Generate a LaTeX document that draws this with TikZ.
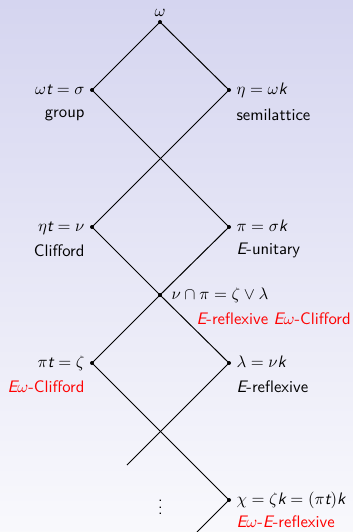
\documentclass[tikz,border=0pt]{standalone}
\definecolor{bgtop}{rgb}{0.835,0.835,0.94}
\definecolor{bgbot}{rgb}{0.975,0.975,0.99}
\newcommand{\si}[1]{\mbox{\sffamily\itshape #1}}
\begin{document}
\begin{tikzpicture}[x=0.6pt,y=-0.6pt,line width=0.6pt,font=\sffamily,
  dot/.style={circle,fill=black,inner sep=0pt,minimum size=2.4pt},
  lbl/.style={inner sep=0pt},
  lft/.style={lbl,anchor=base east},
  rgt/.style={lbl,anchor=base west},
  hl/.style={text=red}]
\shade[top color=bgtop,bottom color=bgbot] (0,0) rectangle (353,532);
\useasboundingbox (0,0) rectangle (353,532);
% points
\coordinate (w) at (160,22);
\coordinate (s) at (92,90);
\coordinate (e) at (229,90);
\coordinate (n) at (92,227);
\coordinate (p) at (229,227);
\coordinate (x) at (160,295);
\coordinate (z) at (92,363);
\coordinate (l) at (229,363);
\coordinate (c) at (229,500);
\coordinate (e1) at (127,465);
\coordinate (e2) at (197,532);
% edges
\draw (w) -- (s);
\draw (w) -- (e);
\draw (s) -- (p);
\draw (e) -- (n);
\draw (n) -- (x);
\draw (x) -- (l);
\draw (p) -- (x);
\draw (x) -- (z);
\draw (z) -- (c);
\draw (l) -- (e1);
\draw (c) -- (e2);
% dots
\foreach \p in {w,s,e,n,p,x,z,l,c} \node[dot] (d\p) at (\p) {};
% labels
\node[lbl,anchor=base] (lw) at (160,16.5) {$\omega$};
\node[lft] (ls1) at (85,94.5) {$\omega\si{t}=\sigma$};
\node[lft] (ls2) at (85,117.5) {group};
\node[rgt] (le1) at (236,94.5) {$\eta=\omega\si{k}$};
\node[rgt] (le2) at (236,120) {semilattice};
\node[lft] (ln1) at (85,231.5) {$\eta\si{t}=\nu$};
\node[lft] (ln2) at (85,256) {Clifford};
\node[rgt] (lp1) at (236,231.5) {$\pi=\sigma\si{k}$};
\node[rgt] (lp2) at (236,254.5) {\si{E}-unitary};
\node[rgt] (lx1) at (171,299.5) {$\nu\cap\pi=\zeta\vee\lambda$};
\node[rgt,hl] (lx2) at (196,324) {\si{E}-reflexive \si{E}$\omega$-Clifford};
\node[lft] (lz1) at (85,367.5) {$\pi\si{t}=\zeta$};
\node[lft,hl] (lz2) at (85,392.5) {\si{E}$\omega$-Clifford};
\node[rgt] (ll1) at (236,367.5) {$\lambda=\nu\si{k}$};
\node[rgt] (ll2) at (236,392.5) {\si{E}-reflexive};
\node[lbl] (dots) at (160.5,502.5) {$\vdots$};
\node[rgt] (lc1) at (236,504) {$\chi=\zeta\si{k}=(\pi\si{t})\si{k}$};
\node[rgt,hl] (lc2) at (236,527.5) {\si{E}$\omega$-\si{E}-reflexive};
\end{tikzpicture}
\end{document}
